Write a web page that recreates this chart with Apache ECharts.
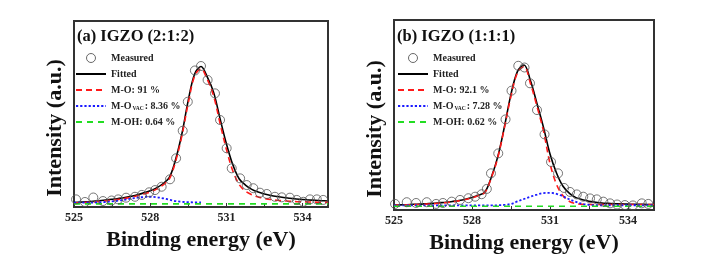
<!DOCTYPE html>
<html><head><meta charset="utf-8">
<script src="https://cdn.jsdelivr.net/npm/echarts@6/dist/echarts.min.js"></script>
<style>html,body{margin:0;padding:0;background:#fff}#c{width:707px;height:273px}</style>
</head><body><div id="c"></div><script>
// energy grids (eV)
const gridE = [525,525.25,525.5,525.75,526,526.25,526.5,526.75,527,527.25,527.5,527.75,528,528.25,528.5,528.75,529,529.25,529.5,529.75,530,530.25,530.5,530.75,531,531.25,531.5,531.75,532,532.25,532.5,532.75,533,533.25,533.5,533.75,534,534.25,534.5,534.75,535];
const gridE2 = [525,525.5,526,526.5,527,527.5,528,528.5,529,529.5,530,530.5,531,531.5,532,532.5,533,533.5,534,534.5,535];
const xTickLabels = [525, 528, 531, 534];

// Panel (a) IGZO (2:1:2)
const measEA = [525.08,525.43,525.76,526.14,526.48,526.74,527.05,527.40,527.67,527.96,528.19,528.45,528.78,529.02,529.28,529.48,529.76,530.00,530.26,530.55,530.75,531.01,531.21,531.54,531.80,532.06,532.32,532.59,532.91,533.18,533.50,533.77,534.03,534.29,534.56,534.81];
const measIA = [4.1,2.7,5.1,3.2,3.5,4.1,5.0,5.5,6.5,7.9,9.1,10.9,14.9,26.2,41.0,56.6,73.4,75.8,68.3,61.1,46.8,31.6,20.8,15.4,11.8,10.1,7.7,7.0,5.5,5.2,5.0,3.8,2.8,4.1,4.1,3.8];
const fitA = [2.4,2.6,2.8,3.1,3.4,3.8,4.2,4.6,5.1,5.8,6.6,7.6,8.8,10.3,12.5,15.8,25.5,39.5,57.5,71.5,75.5,69.8,61.5,47.5,34,22.8,15.2,11.8,9.5,8.0,7.0,6.2,5.6,5.1,4.7,4.3,4.0,3.8,3.6,3.4,3.2];
const moA = [2.2,2.3,2.5,2.7,3.0,3.3,3.7,4.1,4.6,5.2,6.0,7.0,8.1,9.6,11.8,15.0,24.5,38.5,56,70.5,74.3,68.5,59.5,45,31,19.5,12.2,8.5,6.6,5.4,4.6,4.0,3.6,3.3,3.1,2.9,2.8,2.7,2.6,2.5,2.5];
const movacA = [2.3,2.3,2.3,2.4,2.5,2.7,3.0,3.4,3.9,4.5,5.0,5.4,5.5,5.3,4.7,3.9,3.2,2.8,2.6,2.5,2.5];
const mohA = [1.7,1.7,1.7,1.7,1.7,1.7,1.7,1.7,1.7,1.7,1.7,1.7,1.7,1.7,1.7,1.7,1.7,1.7,1.7,1.7,1.7];
const namesA = ['Measured','Fitted','M-O: 91 %','M-OVAC: 8.36 %','M-OH: 0.64 %'];

// Panel (b) IGZO (1:1:1)
const measEB = [525.04,525.49,525.85,526.26,526.62,526.88,527.22,527.54,527.86,528.12,528.37,528.57,528.73,529.01,529.29,529.52,529.78,530.02,530.23,530.50,530.79,531.04,531.31,531.54,531.77,532.03,532.28,532.54,532.80,533.05,533.31,533.58,533.88,534.19,534.53,534.78];
const measIB = [3.2,4.1,3.7,4.1,3.2,3.7,4.4,5.3,6.2,7.0,8.3,11.1,19.3,29.8,47.7,62.8,75.9,75.0,66.7,52.6,39.8,25.3,19.3,11.6,9.5,8.2,7.0,6.1,5.6,4.4,3.5,2.9,2.6,2.4,3.5,3.2];
const fitB = [2.6,2.7,2.8,3.0,3.1,3.3,3.5,3.8,4.1,4.5,5.0,5.7,6.6,7.8,9.5,17.5,28.5,44,61,73,76.3,68,56,43.5,29.5,19.5,12.5,8.8,6.5,5.4,4.6,4.1,3.7,3.5,3.3,3.2,3.1,3.0,3.0,2.9,2.9];
const moB = [2.5,2.6,2.7,2.8,2.9,3.1,3.3,3.6,3.9,4.3,4.8,5.5,6.4,7.6,9.3,17.2,28,43.5,60,72.3,75.5,66.5,54.5,41.5,24.5,13.5,7.5,4.5,3.3,3.0,2.9,2.9,2.9,2.9,2.9,2.9,2.9,2.9,2.9,2.9,2.9];
const movacB = [2.4,2.4,2.4,2.4,2.4,2.4,2.4,2.4,2.4,2.4,2.4,2.4,2.4,2.4,2.4,2.4,2.5,2.7,3.2,4.5,5.8,7.0,8.1,8.9,9.0,8.5,7.2,5.6,4.3,3.2,2.7,2.5,2.5,2.5,2.5,2.5,2.5,2.5,2.5,2.5,2.5];
const mohB = [2.0,2.0,2.0,2.0,2.0,2.0,2.0,2.0,2.0,2.0,2.0,2.0,2.0,2.0,2.0,2.0,2.0,2.0,2.0,2.0,2.0];
const namesB = ['Measured','Fitted','M-O: 92.1 %','M-OVAC: 7.28 %','M-OH: 0.62 %'];

const titles = ['(a) IGZO (2:1:2)', '(b) IGZO (1:1:1)'];
const xName = 'Binding energy (eV)';
const yName = 'Intensity (a.u.)';

const FF = '"Liberation Serif","Times New Roman",serif';
const zip = (xs, ys) => xs.map((x, i) => [x, ys[i]]);

function axisX(gi, gap) {
  return {
    gridIndex: gi, type: 'value', min: 525, max: 535, interval: 1.5,
    name: xName, nameLocation: 'middle', nameGap: gap,
    nameTextStyle: {fontFamily: FF, fontSize: 22, fontWeight: 'bold', color: '#111'},
    axisLine: {show: false},
    axisTick: {show: true, inside: true, length: 4, lineStyle: {color: '#333', width: 1}},
    axisLabel: {
      margin: 5, showMaxLabel: false,
      fontFamily: FF, fontSize: 12, fontWeight: 'bold', color: '#222',
      formatter: v => xTickLabels.indexOf(Math.round(v * 100) / 100) >= 0 ? String(v) : ''
    },
    splitLine: {show: false}
  };
}
function axisY(gi) {
  return {
    gridIndex: gi, type: 'value', min: 0, max: 100,
    name: yName, nameLocation: 'middle', nameGap: 8,
    nameTextStyle: {fontFamily: FF, fontSize: 22, fontWeight: 'bold', color: '#111', padding: [0, 28, 0, 0]},
    axisLine: {show: false}, axisTick: {show: false}, axisLabel: {show: false}, splitLine: {show: false}
  };
}
function panelSeries(gi, names, measE, measI, fit, mo, movac, moh) {
  const base = {xAxisIndex: gi, yAxisIndex: gi, type: 'line', symbol: 'none', smooth: 0.35, silent: true, animation: false};
  return [
    Object.assign({}, base, {name: names[1], data: zip(gridE, fit), lineStyle: {color: '#000', width: 1.6}, itemStyle: {color: '#000'}, z: 2}),
    Object.assign({}, base, {name: names[2], data: zip(gridE, mo), lineStyle: {color: '#ff1a1a', width: 1.6, type: [6, 4]}, itemStyle: {color: '#ff1a1a'}, z: 3}),
    Object.assign({}, base, {name: names[3], data: zip(gridE, movac), lineStyle: {color: '#1a1aff', width: 1.8, type: [2.2, 2]}, itemStyle: {color: '#1a1aff'}, z: 3}),
    Object.assign({}, base, {name: names[4], data: zip(gridE2, moh), smooth: false, lineStyle: {color: '#22dd22', width: 1.6, type: [6, 5]}, itemStyle: {color: '#22dd22'}, z: 3}),
    {name: names[0], type: 'scatter', xAxisIndex: gi, yAxisIndex: gi, data: zip(measE, measI), symbol: 'circle', symbolSize: 9,
     itemStyle: {color: 'rgba(255,255,255,0)', borderColor: '#555', borderWidth: 1}, silent: true, animation: false, z: 4}
  ];
}
function legendFmt(name) {
  if (name.indexOf('VAC') >= 0) {
    const p = name.split('VAC');
    return '{t|' + p[0] + '}{s|VAC}{t|' + p[1] + '}';
  }
  return '{t|' + name + '}';
}
function legend(left, names) {
  return {
    orient: 'vertical', left: left, top: 52, padding: 0, itemGap: 4,
    itemWidth: 30, itemHeight: 9, selectedMode: false,
    data: names.map((n, i) => i === 0
      ? {name: n, itemStyle: {color: 'rgba(255,255,255,0)', borderColor: '#444', borderWidth: 1}}
      : {name: n, itemStyle: {opacity: 0}}),
    formatter: legendFmt,
    textStyle: {
      fontFamily: FF, fontSize: 10, fontWeight: 'bold', color: '#222', lineHeight: 12,
      rich: {
        t: {fontFamily: FF, fontSize: 10, fontWeight: 'bold', color: '#222', lineHeight: 12},
        s: {fontFamily: FF, fontSize: 5.5, fontWeight: 'bold', color: '#222', lineHeight: 12, verticalAlign: 'bottom', padding: [0, 1, 0, 1]}
      }
    }
  };
}

const chart = echarts.init(document.getElementById('c'), null, {renderer: 'canvas'});
chart.setOption({
  backgroundColor: '#fff',
  animation: false,
  title: [
    {text: titles[0], left: 77, top: 28, padding: 0, textStyle: {fontFamily: FF, fontSize: 16.5, fontWeight: 'bold', color: '#111'}},
    {text: titles[1], left: 397, top: 28, padding: 0, textStyle: {fontFamily: FF, fontSize: 16.5, fontWeight: 'bold', color: '#111'}}
  ],
  legend: [legend(75, namesA), legend(397, namesB)],
  grid: [
    {left: 74, right: 379, top: 21, bottom: 66, show: true, borderColor: '#333', borderWidth: 2, backgroundColor: 'rgba(0,0,0,0)'},
    {left: 394, right: 53, top: 20, bottom: 63, show: true, borderColor: '#333', borderWidth: 2, backgroundColor: 'rgba(0,0,0,0)'}
  ],
  xAxis: [axisX(0, 15), axisX(1, 14)],
  yAxis: [axisY(0), axisY(1)],
  series: [].concat(
    panelSeries(0, namesA, measEA, measIA, fitA, moA, movacA, mohA),
    panelSeries(1, namesB, measEB, measIB, fitB, moB, movacB, mohB)
  )
});
</script></body></html>
